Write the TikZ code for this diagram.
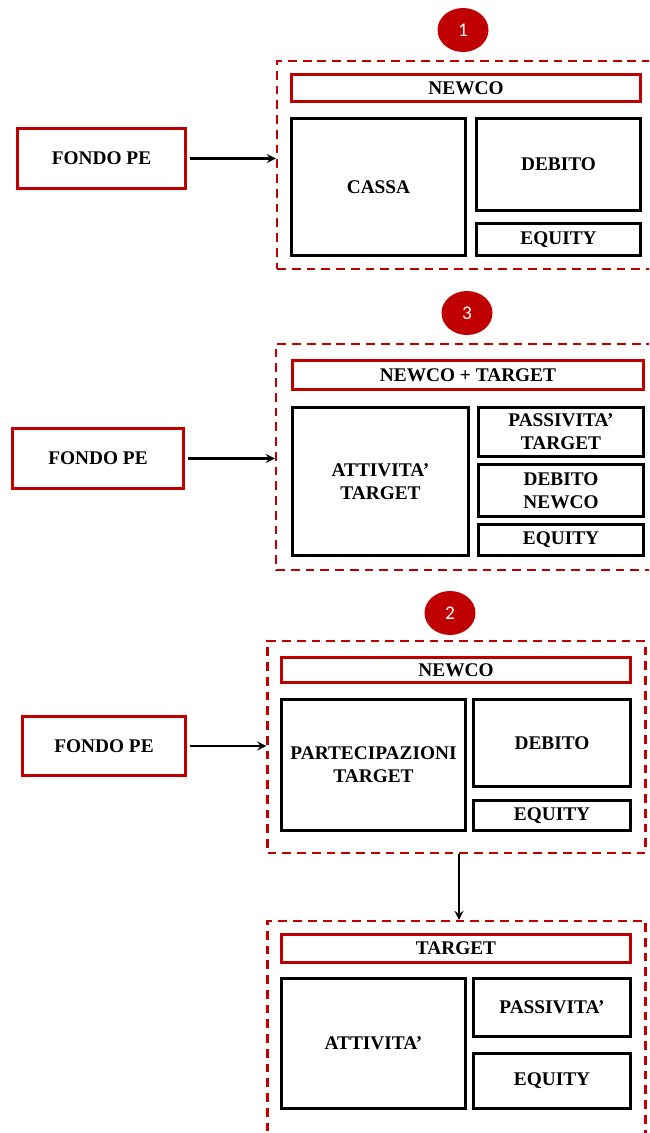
\documentclass[tikz,border=0pt]{standalone}
\usepackage{fontspec}
\setmainfont{Liberation Serif}
\newfontfamily\numfont{Carlito}
\usetikzlibrary{shapes.geometric}
\definecolor{pered}{RGB}{192,0,0}
\tikzset{>=stealth}
\tikzset{
  wh/.style 2 args={minimum width=#1cm, minimum height=#2cm},
  cell/.style={draw=black, line width=1.6pt, inner sep=0pt, align=center,
    font=\fontsize{11}{13.2}\selectfont\bfseries},
  head/.style={cell, draw=pered},
  fund/.style={cell, draw=pered},
  zone/.style={draw=pered, line width=1.2pt, dash pattern=on 5pt off 3.4pt, inner sep=0pt},
  badge/.style={ellipse, fill=pered, text=white, inner sep=0pt, wh={1.02}{0.88},
    font=\numfont\fontsize{11}{13}\selectfont}
}
\begin{document}
\begin{tikzpicture}
  \useasboundingbox (0,0) rectangle (12.98,-22.66);
  \clip (0,0) rectangle (12.98,-22.66);
  % step 1
  \node[badge] (n1) at (9.26,-0.6) {1};
  \node[zone, wh={7.86}{4.16}] (zone1) at (9.47,-3.3) {};
  \node[head, wh={6.98}{0.54}] (newco1) at (9.32,-1.76) {NEWCO};
  \node[cell, wh={3.48}{2.74}] (cassa1) at (7.57,-3.74) {CASSA};
  \node[cell, wh={3.28}{1.84}] (debito1) at (11.17,-3.29) {DEBITO};
  \node[cell, wh={3.28}{0.64}] (equity1) at (11.17,-4.79) {EQUITY};
  \node[fund, wh={3.36}{1.2}] (fondo1) at (2.03,-3.17) {FONDO PE};
  % step 3
  \node[badge] (n3) at (9.34,-6.26) {3};
  \node[zone, wh={7.88}{4.52}] (zone3) at (9.46,-9.14) {};
  \node[head, wh={7.02}{0.58}] (newco3) at (9.36,-7.5) {NEWCO + TARGET};
  \node[cell, wh={3.52}{2.96}] (attiv3) at (7.61,-9.63) {ATTIVITA'\\TARGET};
  \node[cell, wh={3.3}{0.98}] (passiv3) at (11.22,-8.64) {PASSIVITA'\\TARGET};
  \node[cell, wh={3.3}{1.04}] (debito3) at (11.22,-9.81) {DEBITO\\NEWCO};
  \node[cell, wh={3.3}{0.62}] (equity3) at (11.22,-10.8) {EQUITY};
  \node[fund, wh={3.42}{1.2}] (fondo3) at (1.96,-9.17) {FONDO PE};
  % step 2
  \node[badge] (n2) at (9.0,-12.26) {2};
  \node[zone, wh={7.56}{4.24}] (zone2) at (9.13,-14.94) {};
  \node[head, wh={6.98}{0.5}] (newco2) at (9.12,-13.4) {NEWCO};
  \node[cell, wh={3.68}{2.62}] (partec2) at (7.47,-15.3) {PARTECIPAZIONI\\TARGET};
  \node[cell, wh={3.14}{1.74}] (debito2) at (11.04,-14.86) {DEBITO};
  \node[cell, wh={3.14}{0.6}] (equity2) at (11.04,-16.31) {EQUITY};
  \node[fund, wh={3.26}{1.18}] (fondo2) at (2.08,-14.92) {FONDO PE};
  \node[zone, wh={7.56}{4.76}] (zone4) at (9.13,-20.8) {};
  \node[head, wh={6.98}{0.56}] (target4) at (9.12,-18.97) {TARGET};
  \node[cell, wh={3.68}{2.6}] (attiv4) at (7.47,-20.87) {ATTIVITA'};
  \node[cell, wh={3.14}{1.16}] (passiv4) at (11.04,-20.15) {PASSIVITA'};
  \node[cell, wh={3.14}{1.1}] (equity4) at (11.04,-21.62) {EQUITY};
  \begin{scope}[->, line width=1.3pt]
    \draw (fondo1.east) ++(0.06,0) -- (fondo1.east -| zone1.west);
    \draw (fondo3.east) ++(0.06,0) -- (fondo3.east -| zone3.west);
    \draw (fondo2.east) ++(0.06,0) -- (fondo2.east -| zone2.west);
    \draw ([xshift=0.05cm]zone2.south) -- ([xshift=0.05cm]zone4.north);
  \end{scope}
\end{tikzpicture}
\end{document}
